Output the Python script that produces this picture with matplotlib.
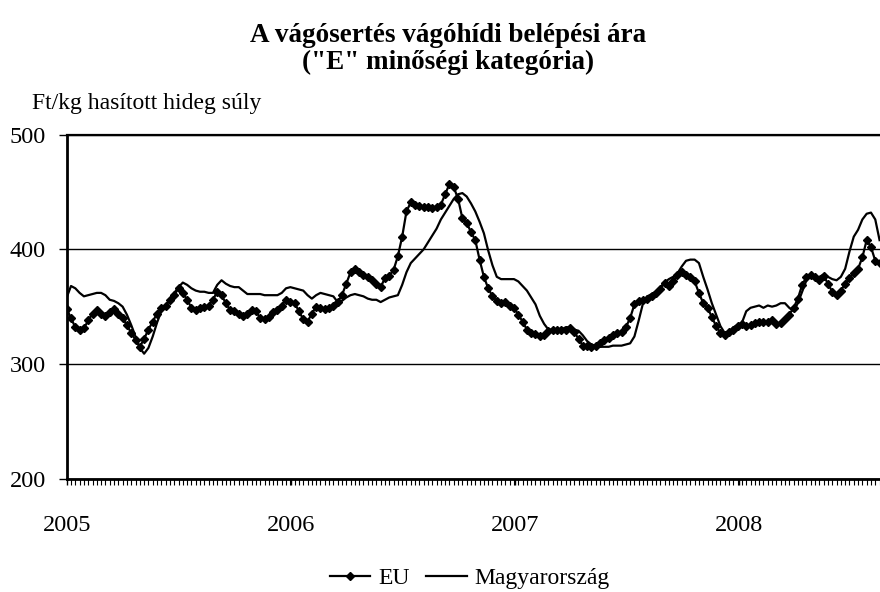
import numpy as np
import pandas as pd
import matplotlib
matplotlib.use('Agg')
import matplotlib.pyplot as plt

plt.rcParams['font.family'] = ['Liberation Serif', 'DejaVu Serif']

# weekly prices, Ft/kg, from the first week of 2005
eu = [348, 340, 332, 330, 331, 338, 344, 347, 344, 342,
      345, 348, 344, 340, 334, 327, 321, 315, 322, 330,
      337, 344, 349, 351, 356, 360, 366, 362, 356, 349,
      347, 349, 350, 351, 356, 363, 360, 353, 347, 346,
      344, 342, 344, 347, 346, 340, 339, 341, 345, 347,
      351, 356, 354, 353, 346, 339, 337, 344, 350, 349,
      348, 349, 351, 354, 360, 370, 380, 383, 380, 378,
      376, 373, 370, 367, 375, 377, 382, 394, 411, 433,
      441, 439, 438, 437, 437, 436, 437, 439, 448, 457,
      454, 444, 427, 423, 415, 408, 391, 376, 366, 359,
      355, 353, 354, 351, 349, 343, 337, 330, 327, 326,
      324, 325, 329, 330, 330, 330, 330, 331, 328, 322,
      316, 316, 315, 316, 318, 321, 323, 325, 327, 328,
      332, 340, 352, 355, 356, 357, 359, 362, 365, 371,
      368, 372, 378, 380, 378, 376, 372, 362, 353, 349,
      341, 333, 327, 325, 328, 330, 333, 335, 333, 334,
      336, 337, 337, 337, 338, 335, 336, 339, 343, 349,
      357, 369, 376, 378, 376, 373, 377, 370, 363, 360,
      364, 370, 375, 379, 383, 393, 408, 402, 390, 388]

hu = [358, 368, 366, 362, 359, 360, 361, 362, 362, 360,
      356, 355, 353, 350, 343, 334, 324, 314, 309, 314,
      324, 336, 346, 351, 356, 362, 367, 371, 369, 366,
      364, 363, 363, 362, 362, 369, 373, 370, 368, 367,
      367, 364, 361, 361, 361, 361, 360, 360, 360, 360,
      362, 366, 367, 366, 365, 364, 360, 357, 360, 362,
      361, 360, 359, 354, 355, 358, 360, 361, 360, 359,
      357, 356, 356, 354, 356, 358, 359, 360, 369, 380,
      388, 392, 396, 400, 406, 412, 418, 426, 432, 438,
      444, 448, 449, 446, 440, 433, 424, 414, 399, 386,
      376, 374, 374, 374, 374, 372, 368, 364, 358, 352,
      342, 335, 330, 330, 330, 330, 332, 332, 330, 329,
      325, 320, 317, 316, 315, 315, 315, 316, 316, 316,
      317, 318, 324, 338, 353, 359, 361, 363, 367, 371,
      374, 376, 379, 385, 390, 391, 391, 388, 376, 365,
      353, 343, 333, 327, 328, 332, 334, 336, 346, 349,
      350, 351, 349, 351, 350, 351, 353, 353, 349, 346,
      353, 363, 373, 377, 374, 376, 378, 376, 374, 373,
      376, 383, 398, 411, 417, 426, 431, 432, 426, 408]

weeks = pd.date_range('2005-01-01', periods=len(eu), freq='7D')
years = ['2005', '2006', '2007', '2008']
year_starts = pd.to_datetime([y + '-01-01' for y in years])
yticks = [200, 300, 400, 500]

fig = plt.figure(figsize=(8.8, 5.92), dpi=100)
ax = fig.add_axes([66.7 / 880, 1 - 478.7 / 592, 1 - 66.7 / 880, (478.7 - 134.6) / 592])

ax.plot(weeks, eu, color='black', linewidth=1.6, marker='D', markersize=3.8, label='EU')
ax.plot(weeks, hu, color='black', linewidth=1.6, label='Magyarország')

ax.set_ylim(200, 500)
ax.set_xlim(weeks[0], weeks[0] + pd.Timedelta(weeks=189.1))
ax.set_yticks(yticks)
ax.set_xticks(year_starts)
ax.set_xticklabels(years)
ax.set_xticks(weeks, minor=True)
ax.yaxis.grid(True, color='black', linewidth=1.0)
ax.set_axisbelow(True)

ax.tick_params(axis='y', direction='out', length=6, width=1, pad=9, labelsize=17.5)
ax.tick_params(axis='x', which='major', direction='out', length=4, width=1, pad=22, labelsize=17.5)
ax.tick_params(axis='x', which='minor', direction='out', length=4, width=0.8)

ax.spines['right'].set_visible(False)
ax.spines['left'].set_linewidth(2)
ax.spines['bottom'].set_linewidth(2)
ax.spines['top'].set_linewidth(1.6)

fig.text(448 / 880, 1 - 35 / 592, 'A vágósertés vágóhídi belépési ára',
         ha='center', va='center', fontsize=19.5, fontweight='bold')
fig.text(448 / 880, 1 - 62 / 592, '("E" minőségi kategória)',
         ha='center', va='center', fontsize=19.5, fontweight='bold')
fig.text(32 / 880, 1 - 103 / 592, 'Ft/kg hasított hideg súly',
         ha='left', va='center', fontsize=17)

fig.legend(loc='center', bbox_to_anchor=(470 / 880, 1 - 578 / 592), ncol=2,
           frameon=False, fontsize=17, handlelength=1.7, handletextpad=0.35,
           columnspacing=0.7)

plt.savefig('out.png', dpi=100)
